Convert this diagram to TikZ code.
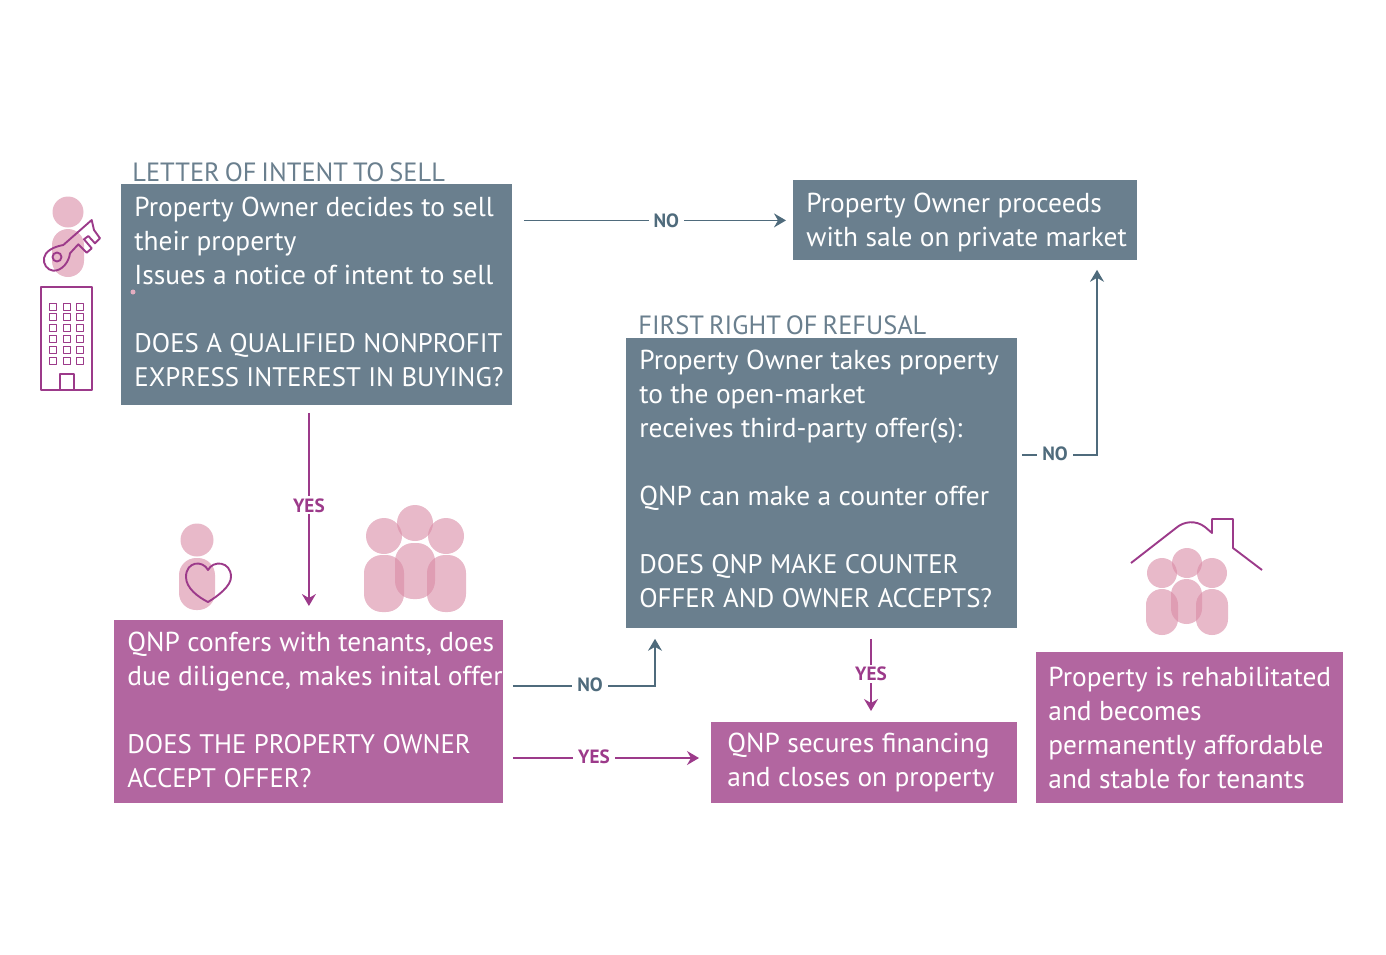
\documentclass[tikz,border=0pt]{standalone}
\usepackage{fontspec}
\setmainfont[WordSpace=0.7]{PT Sans}
\usepackage{xcolor}

\definecolor{slatebox}{HTML}{6A7F8E}
\definecolor{slateline}{HTML}{4F6B7C}
\definecolor{plumbox}{HTML}{B266A0}
\definecolor{plumline}{HTML}{9C3A8A}
\definecolor{icon}{HTML}{D98AA5}

\newcommand{\capsize}{\fontsize{13.4}{17}\selectfont}
\newcommand{\nudge}[1]{\par\vspace{#1}}

\tikzset{
    flowbox/.style n args={4}{anchor=north west, fill=#1, text=white, minimum width=#2, minimum height=#3,
        inner xsep=0pt, inner ysep=0pt, text width=#2, align=left, font=\fontsize{13.7}{17}\selectfont,
        execute at begin node={\leftskip=#4\rightskip=-20pt plus 1fil\spaceskip=.27em\xspaceskip=.27em}},
    boxtitle/.style={anchor=south west, text=slatebox, inner sep=0pt, font=\fontsize{13.2}{17}\selectfont},
    answer/.style={fill=white, inner xsep=2.5pt, inner ysep=1pt, font=\fontsize{9.6}{10}\selectfont\bfseries},
    slateflow/.style={slateline, line width=0.7pt, -{Stealth[length=6pt,width=7pt,inset=2pt]}},
    plumflow/.style={plumline, line width=0.7pt, -{Stealth[length=6pt,width=7pt,inset=2pt]}},
    pale/.style={fill=icon, fill opacity=0.6},
    outline/.style={plumline, line width=0.95pt, line join=round}
}
\usetikzlibrary{arrows.meta}

\begin{document}
\begin{tikzpicture}[x=0.5pt, y=-0.5pt]

        \useasboundingbox (0,0) rectangle (1386,954);

        % boxes

        \node[flowbox={slatebox}{195.5pt}{110.5pt}{6.5pt}] (intent) at (121,184) {Property Owner decides to sell\\their property\\Issues a notice of intent to sell\\[17pt]\capsize DOES A QUALIFIED NONPROFIT\\EXPRESS INTEREST IN BUYING?\nudge{3pt}};
        \node[flowbox={slatebox}{172pt}{40pt}{6.5pt}] (private) at (793,180) {Property Owner proceeds\\with sale on private market\nudge{-2pt}};
        \node[flowbox={slatebox}{195.5pt}{145pt}{6.5pt}] (refusal) at (626,338) {Property Owner takes property\\to the open-market\\receives third-party offer(s):\\[17pt]QNP can make a counter offer\\[17pt]\capsize DOES QNP MAKE COUNTER\\OFFER AND OWNER ACCEPTS?\nudge{4.5pt}};
        \node[flowbox={plumbox}{194.5pt}{91.5pt}{6.5pt}] (confer) at (114,620) {QNP confers with tenants, does\\due diligence, makes inital offer\\[17pt]\capsize DOES THE PROPERTY OWNER\\ACCEPT OFFER?\nudge{2pt}};
        \node[flowbox={plumbox}{153pt}{40.5pt}{8pt}] (secures) at (711,722) {QNP secures financing\\and closes on property};
        \node[flowbox={plumbox}{153.5pt}{75.5pt}{6pt}] (rehab) at (1036,652) {Property is rehabilitated\\and becomes\\permanently affordable\\and stable for tenants};

        \node[boxtitle] (intenttitle) at (132,182) {LETTER OF INTENT TO SELL};
        \node[boxtitle] (refusaltitle) at (638,335) {FIRST RIGHT OF REFUSAL};

        \fill[icon!70!white] (133,292) circle (2.5); % stray mark

        % connectors

        \coordinate (noturn) at (655,686);
        \coordinate (noriser) at (1097,455);
        \coordinate (yesrow) at (600,758);
        \coordinate (yescol) at (871,680);

        \draw[slateflow, shorten <=5.5pt, shorten >=3.5pt] (intent.east |- private.west) -- (private.west)
            node[answer, text=slateline, pos=0.548] (no1) {NO};
        \draw[plumflow, shorten <=3.5pt, shorten >=7pt] (confer.north |- intent.south) -- (confer.north)
            node[answer, text=plumline, pos=0.465] (yes1) {YES};
        \draw[slateflow, shorten <=4.5pt, shorten >=5pt] (noturn -| confer.east) -- (noturn) -- (noturn |- refusal.south);
        \node[answer, text=slateline] (no2) at (590,685) {NO};
        \draw[plumflow, shorten <=4.5pt, shorten >=6pt] (yesrow -| confer.east) -- (yesrow -| secures.west);
        \node[answer, text=plumline] (yes2) at (594,757) {YES};
        \draw[plumflow, shorten <=5pt, shorten >=5.5pt] (yescol |- refusal.south) -- (yescol |- secures.north);
        \node[answer, text=plumline] (yes3) at (871,674) {YES};
        \draw[slateflow, shorten <=2pt, shorten >=4.5pt] (refusal.east |- noriser) -- (noriser) -- (noriser |- private.south);
        \node[answer, text=slateline] (no3) at (1055,454) {NO};

        % owner with key

        \fill[pale] (68,212) circle (15.5);
        \fill[pale, rounded corners=8pt] (52,229) rectangle (84,277);
        \draw[outline, fill=none] (63.3,245) -- (91.7,220) -- (94,230) -- (100,238.3) -- (95,243.3) -- (88.3,236) -- (84,239.3) -- (91.7,248.3) -- (86.7,252.7) -- (78.3,244.3) -- (70,253.3)
            .. controls (69,262) and (62,271) .. (53.3,270.7) .. controls (47,270) and (43,264) .. (44,258) .. controls (45,252) and (52,247) .. (63.3,245) -- cycle;
        \draw[outline] (57,257) circle (4.5);

        % building

        \draw[outline] (41,287) rectangle (92,390);
        \draw[outline] (60,390) -- (60,374) -- (74,374) -- (74,390);
        \foreach \wx in {53,67,80}
            \foreach \wy in {307,317,328,339,350,361}
                \draw[outline] (\wx-3.5,\wy-3.5) rectangle (\wx+3.5,\wy+3.5);

        % tenant with heart

        \fill[pale] (197,540) circle (16.5);
        \fill[pale, rounded corners=8.5pt] (179,558) rectangle (215,610);
        \draw[outline] (208,570) .. controls (203,560) and (186,561) .. (186,577) .. controls (186,588) and (198,597) .. (208,602)
            .. controls (218,596) and (231,586) .. (231,577) .. controls (231,561) and (213,560) .. (208,570) -- cycle;

        % tenants

        \foreach \hx/\hy in {384/536, 415/523, 446/536}
            \fill[pale] (\hx,\hy) circle (18);
        \fill[pale, rounded corners=9pt] (364,555) rectangle (404,612);
        \fill[pale, rounded corners=9pt] (395,543) rectangle (435,599);
        \fill[pale, rounded corners=9pt] (427,555) rectangle (466,612);

        % house

        \foreach \hx/\hy in {1162/573, 1187/563, 1212/573}
            \fill[pale] (\hx,\hy) circle (15);
        \fill[pale, rounded corners=7.9pt] (1146,589) rectangle (1178,635);
        \fill[pale, rounded corners=7.7pt] (1171,579) rectangle (1202,624);
        \fill[pale, rounded corners=7.9pt] (1196,589) rectangle (1228,635);
        \draw[outline] (1131,563) -- (1176,528) .. controls (1184,521) and (1196,520) .. (1205,527) -- (1212,533) -- (1212,519) -- (1233,519) -- (1233,548) -- (1262,570);

    \end{tikzpicture}
\end{document}
